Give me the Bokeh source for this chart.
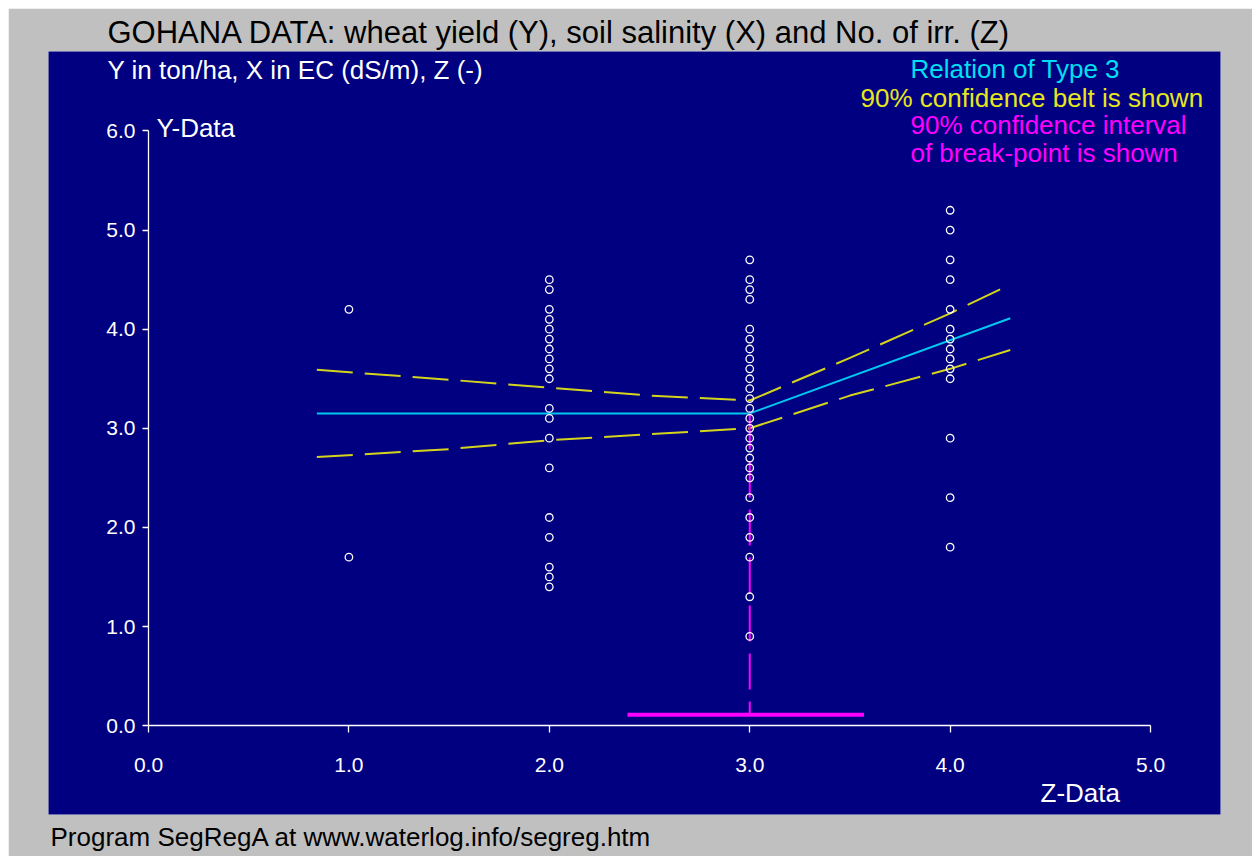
from bokeh.plotting import figure
from bokeh.models import Range1d, LinearAxis, FixedTicker, Label, Title, PrintfTickFormatter
from bokeh.embed import file_html
from bokeh.resources import INLINE

# ---- data ----
z_groups = [1.0, 2.0, 3.0, 4.0]
y_at_z1 = [4.2, 1.7]
y_at_z2 = [4.5, 4.4, 4.2, 4.1, 4.0, 3.9, 3.8, 3.7, 3.6, 3.5, 3.2, 3.1, 2.9,
           2.6, 2.1, 1.9, 1.6, 1.5, 1.4]
y_at_z3 = [4.7, 4.5, 4.4, 4.3, 4.0, 3.9, 3.8, 3.7, 3.6, 3.5, 3.4, 3.3, 3.2,
           3.1, 3.0, 2.9, 2.8, 2.7, 2.6, 2.5, 2.3, 2.1, 1.9, 1.7, 1.3, 0.9]
y_at_z4 = [5.2, 5.0, 4.7, 4.5, 4.2, 4.0, 3.9, 3.8, 3.7, 3.6, 3.5, 2.9, 2.3, 1.8]

reg_x = [0.84, 3.0, 4.3]
reg_y = [3.15, 3.15, 4.11]

belt_x = [0.84, 1.5, 2.0, 2.5, 3.0, 3.5, 4.0, 4.3]
belt_upper = [3.59, 3.49, 3.41, 3.33, 3.28, 3.71, 4.16, 4.45]
belt_lower = [2.71, 2.79, 2.88, 2.94, 3.00, 3.33, 3.60, 3.79]

break_point = 3.0
break_low = 2.39
break_high = 3.57
break_bar_y = 0.11
break_top_y = 3.15

x_ticks = [0, 1, 2, 3, 4, 5]
y_ticks = [0, 1, 2, 3, 4, 5, 6]

# ---- build point table ----
pts_x, pts_y = [], []
for zv, ys in zip(z_groups, [y_at_z1, y_at_z2, y_at_z3, y_at_z4]):
    pts_x += [zv] * len(ys)
    pts_y += ys

NAVY = "#000080"
GRAY = "#C0C0C0"
FONT = "Liberation Sans"

p = figure(width=1244, height=848, output_backend="svg", toolbar_location=None,
           title=None,
           x_range=Range1d(-0.499, 5.349), y_range=Range1d(-0.897, 6.802),
           x_axis_type=None, y_axis_type=None,
           min_border_left=40, min_border_right=32,
           min_border_top=43, min_border_bottom=37,
           background_fill_color=NAVY, border_fill_color=GRAY,
           outline_line_color=None)
p.styles = {"margin-left": "8px", "margin-top": "8px"}

common = dict(axis_line_color="white", axis_line_width=1.3,
              major_tick_line_color="white", major_tick_line_width=1.3,
              major_tick_in=0, minor_tick_line_color=None,
              major_label_text_color="white", major_label_text_font=FONT,
              major_label_text_font_size="21px",
              formatter=PrintfTickFormatter(format="%.1f"))

xaxis = LinearAxis(fixed_location=0, bounds=(0, 5),
                   ticker=FixedTicker(ticks=x_ticks),
                   major_tick_out=7, major_label_standoff=25, **common)
p.add_layout(xaxis, "below")

yaxis = LinearAxis(fixed_location=0, bounds=(0, 6),
                   ticker=FixedTicker(ticks=y_ticks),
                   major_tick_out=6, major_label_standoff=7, **common)
p.add_layout(yaxis, "left")

# titles outside the plotting area
p.add_layout(Title(text="GOHANA DATA: wheat yield (Y), soil salinity (X) and No. of irr. (Z)",
                   align="left", offset=59, standoff=4, text_font=FONT,
                   text_font_size="31px", text_font_style="normal",
                   text_color="black"), "above")
p.add_layout(Title(text="Program SegRegA at www.waterlog.info/segreg.htm",
                   align="left", offset=2, standoff=10, text_font=FONT,
                   text_font_size="26px", text_font_style="normal",
                   text_color="black"), "below")

# confidence belt
p.line(belt_x, belt_upper, line_color="#D4D41C", line_width=2, line_dash="36 12")
p.line(belt_x, belt_lower, line_color="#D4D41C", line_width=2, line_dash="36 12")

# regression
p.line(reg_x, reg_y, line_color="#00C8F0", line_width=2)

# break-point interval
p.line([break_point, break_point], [break_top_y, break_bar_y],
       line_color="#FF00FF", line_width=2, line_dash="36 12")
p.line([break_low, break_high], [break_bar_y, break_bar_y],
       line_color="#FF00FF", line_width=4)

# points
p.scatter(pts_x, pts_y, marker="circle", size=7.5, fill_color=None,
          line_color="white", line_width=1.3)


def lab(x, y, text, color, size="26px"):
    p.add_layout(Label(x=x, y=y, text=text, text_color=color,
                       text_font=FONT, text_font_size=size,
                       text_align="left", text_baseline="middle"))


lab(-0.2046, 6.612, "Y in ton/ha, X in EC (dS/m), Z (-)", "white")
lab(3.802, 6.622, "Relation of Type 3", "#00E0F0")
lab(3.553, 6.331, "90% confidence belt is shown", "#E6E61E")
lab(3.802, 6.060, "90% confidence interval", "#FF00FF")
lab(3.802, 5.779, "of break-point is shown", "#FF00FF")
lab(0.04, 6.03, "Y-Data", "white")
lab(4.451, -0.677, "Z-Data", "white")

open("out.html", "w").write(file_html(p, INLINE))
